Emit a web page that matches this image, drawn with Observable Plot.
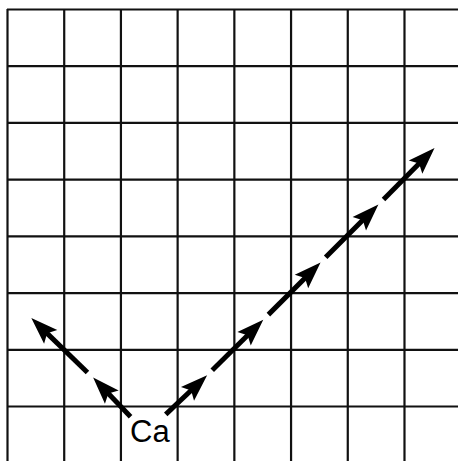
<!DOCTYPE html>
<html><head><meta charset="utf-8">
<script src="https://cdn.jsdelivr.net/npm/d3@7"></script>
<script src="https://cdn.jsdelivr.net/npm/@observablehq/plot@0.6"></script>
<style>html,body{margin:0;padding:0;background:#fff;overflow:hidden}</style>
</head><body><div id="chart"></div>
<script>
// grid lines (grid units)
const gridX = [0, 1, 2, 3, 4, 5, 6, 7, 8];
const gridY = [0, 1, 2, 3, 4, 5, 6, 7, 8];
// dashed arrow segments (start -> arrow tip), grid units, y upward
const segX1 = [2.17, 1.41, 2.79, 3.61, 4.60, 5.61, 6.63];
const segY1 = [0.82, 1.60, 0.86, 1.64, 2.62, 3.63, 4.65];
const segX2 = [1.51, 0.42, 3.52, 4.51, 5.52, 6.54, 7.53];
const segY2 = [1.51, 2.56, 1.55, 2.53, 3.54, 4.56, 5.56];
// label
const labels = ["Ca"];
const labelX = [2.51];
const labelY = [0.54];

const segs = segX1.map((x, i) => ({x1: x, y1: segY1[i], x2: segX2[i], y2: segY2[i]}));
const lbl = labels.map((t, i) => ({t, x: labelX[i], y: labelY[i]}));

const HEAD_BACK = 12;
// curve that stops the shaft short of the tip so the filled head forms a sharp point
const shortenEnd = (px) => (context) => {
  let pts = [];
  return {
    lineStart() { pts = []; },
    point(x, y) { pts.push([+x, +y]); },
    lineEnd() {
      const [x0, y0] = pts[0], [x1, y1] = pts[pts.length - 1];
      const d = Math.hypot(x1 - x0, y1 - y0), k = (d - px) / d;
      context.moveTo(x0, y0);
      context.lineTo(x0 + (x1 - x0) * k, y0 + (y1 - y0) * k);
    },
    areaStart() {}, areaEnd() {}
  };
};
function arrowHead(color) {
  const ns = "http://www.w3.org/2000/svg";
  const m = document.createElementNS(ns, "marker");
  m.setAttribute("viewBox", "-30 -12 32 24");
  m.setAttribute("markerWidth", 32);
  m.setAttribute("markerHeight", 24);
  m.setAttribute("markerUnits", "userSpaceOnUse");
  m.setAttribute("refX", -HEAD_BACK);
  m.setAttribute("refY", 0);
  m.setAttribute("orient", "auto");
  m.setAttribute("overflow", "visible");
  const p = document.createElementNS(ns, "path");
  p.setAttribute("d", "M0,0L-27,-9.5L-22,0L-27,9.5Z");
  p.setAttribute("fill", color || "#000");
  p.setAttribute("stroke", "none");
  m.appendChild(p);
  return m;
}

const chart = Plot.plot({
  width: 458,
  height: 461,
  margin: 0,
  style: {background: "#fff"},
  x: {domain: [0, 8], range: [7, 460.7], axis: null},
  y: {domain: [0, 8], range: [462.7, 9], axis: null},
  marks: [
    Plot.ruleX(gridX, {x: d => d, y1: 0, y2: 8, stroke: "#111", strokeWidth: 2.2}),
    Plot.ruleY(gridY, {y: d => d, x1: 0, x2: 8, stroke: "#111", strokeWidth: 2.2}),
    Plot.link(segs, {x1: "x1", y1: "y1", x2: "x2", y2: "y2", stroke: "#000", strokeWidth: 5,
      curve: shortenEnd(HEAD_BACK), markerEnd: arrowHead}),
    Plot.text(lbl, {x: "x", y: "y", text: "t", fontSize: 31, fill: "#000",
      fontFamily: "Liberation Sans, Arial, sans-serif"})
  ]
});
document.getElementById("chart").appendChild(chart);
</script>
</body></html>
